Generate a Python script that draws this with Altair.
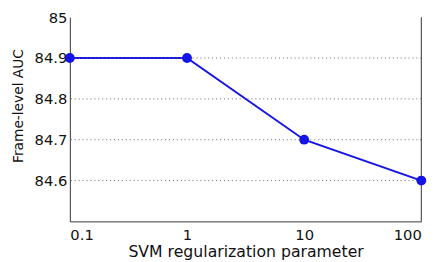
import altair as alt
import pandas as pd

x_vals = [0.1, 1, 10, 100]
auc = [84.9, 84.9, 84.7, 84.6]
y_ticks = [84.6, 84.7, 84.8, 84.9, 85]
grid_vals = [84.6, 84.7, 84.8, 84.9]

df = pd.DataFrame({"c": x_vals, "auc": auc})
grid_df = pd.DataFrame({"auc": grid_vals})
right_df = pd.DataFrame({"c": [max(x_vals)]})

FONT = "DejaVu Sans"
BLUE = "#1414e6"

xscale = alt.Scale(type="log", domain=[0.1, 100], nice=False)
yscale = alt.Scale(domain=[84.5, 85], nice=False, zero=False)

x_axis = alt.Axis(
    values=x_vals, format="~g", grid=False, ticks=False, tickSize=0,
    labelFont=FONT, labelFontSize=15, labelColor="#111", labelPadding=6,
    title="SVM regularization parameter", titleFont=FONT, titleFontSize=16,
    titleFontWeight="normal", titleColor="#111", titleBaseline="alphabetic",
    titleY=36, domainColor="#333",
)
y_axis = alt.Axis(
    values=y_ticks, format="~g", grid=False, ticks=False, tickSize=0,
    labelFont=FONT, labelFontSize=15, labelColor="#111", labelPadding=3,
    title="Frame-level AUC", titleFont=FONT, titleFontSize=14,
    titleFontWeight="normal", titleColor="#111", titleBaseline="alphabetic",
    titleAngle=270, titleX=-48, titleY=90, domainColor="#333",
)

line = alt.Chart(df).mark_line(color=BLUE, strokeWidth=2).encode(
    x=alt.X("c:Q", scale=xscale, axis=x_axis),
    y=alt.Y("auc:Q", scale=yscale, axis=y_axis),
)

grid = alt.Chart(grid_df).mark_rule(color="#666", strokeDash=[1, 3], strokeWidth=1).encode(
    y=alt.Y("auc:Q", scale=yscale, title="Frame-level AUC")
)

right = alt.Chart(right_df).mark_rule(color="#333", strokeWidth=1).encode(
    x=alt.X("c:Q", scale=xscale, title="SVM regularization parameter")
)

pts = alt.Chart(df).mark_point(filled=True, color=BLUE, size=100, opacity=1).encode(
    x=alt.X("c:Q", scale=xscale, title="SVM regularization parameter"),
    y=alt.Y("auc:Q", scale=yscale, title="Frame-level AUC"),
)

chart = alt.layer(line, grid, right, pts).properties(
    width=358, height=208,
    background="white",
    autosize=alt.AutoSizeParams(type="none"),
    padding={"left": 63, "top": 7, "right": 17, "bottom": 39},
).configure_view(strokeWidth=0, stroke=None)

chart.save("out.html", embed_options={"renderer": "svg", "actions": False})
